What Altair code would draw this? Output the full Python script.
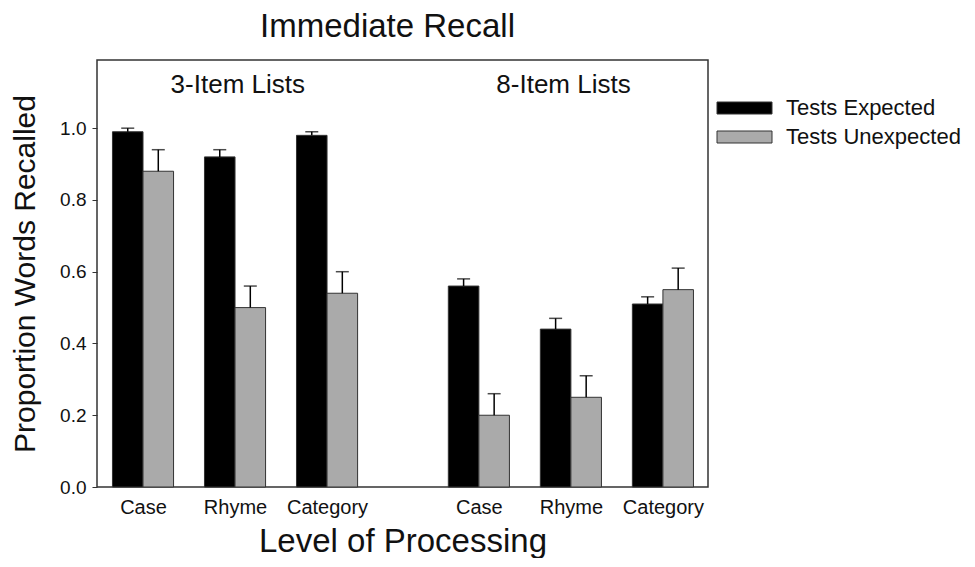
import altair as alt
import pandas as pd

# ---- data ----
levels = ["Case", "Rhyme", "Category", "Case", "Rhyme", "Category"]
slots = [1, 2, 3, 4.65, 5.65, 6.65]
expected = [0.99, 0.92, 0.98, 0.56, 0.44, 0.51]
expected_err = [0.01, 0.02, 0.01, 0.02, 0.03, 0.02]
unexpected = [0.88, 0.50, 0.54, 0.20, 0.25, 0.55]
unexpected_err = [0.06, 0.06, 0.06, 0.06, 0.06, 0.06]
conditions = ["Tests Expected", "Tests Unexpected"]
colors = ["#000000", "#aaaaaa"]
group_labels = ["3-Item Lists", "8-Item Lists"]
group_pos = [2.03, 5.57]
group_y = [1.12, 1.12]
y_ticks = [0.0, 0.2, 0.4, 0.6, 0.8, 1.0]

BW = 0.332  # bar width in slot units

rows = []
for i in range(len(levels)):
    rows.append(dict(level=levels[i], slot=slots[i], cond=conditions[0],
                     value=expected[i], err=expected_err[i],
                     x0=slots[i] - BW, x1=slots[i]))
    rows.append(dict(level=levels[i], slot=slots[i], cond=conditions[1],
                     value=unexpected[i], err=unexpected_err[i],
                     x0=slots[i], x1=slots[i] + BW))
df = pd.DataFrame(rows)
df["center"] = (df["x0"] + df["x1"]) / 2
df["top"] = df["value"] + df["err"]

FONT = "Liberation Sans"
TXT = "#111111"

xscale = alt.Scale(domain=[0.5, 7.14], nice=False, zero=False)
yscale = alt.Scale(domain=[0, 1.19], nice=False)

label_expr = ("[" + ",".join("'%s'" % l for l in levels) + "][indexof(["
              + ",".join(str(s) for s in slots) + "], datum.value)]")

xaxis = alt.Axis(values=slots, labelExpr=label_expr, ticks=False, grid=False,
                 title="Level of Processing", labelFontSize=20, labelPadding=10,
                 titleFontSize=33, titleFontWeight="normal", titlePadding=8,
                 labelColor=TXT, titleColor=TXT, domain=False)
yaxis = alt.Axis(values=y_ticks, format=".1f", grid=False, tickSize=5,
                 tickColor="#333", labelFontSize=19, labelPadding=6,
                 title="Proportion Words Recalled", titleFontSize=30,
                 titleFontWeight="normal", titlePadding=19,
                 labelColor=TXT, titleColor=TXT, domain=False)

base = alt.Chart(df)

bars = base.mark_bar(stroke="#333333", strokeWidth=1).encode(
    x=alt.X("x0:Q", scale=xscale, axis=xaxis),
    x2="x1:Q",
    y=alt.Y("value:Q", scale=yscale, axis=yaxis),
    y2=alt.datum(0),
    color=alt.Color("cond:N", scale=alt.Scale(domain=conditions, range=colors),
                    legend=None),
)

err_lines = base.mark_rule(color="#000000", strokeWidth=1.5).encode(
    x="center:Q", y="value:Q", y2="top:Q"
)
caps = base.mark_tick(color="#000000", orient="horizontal", size=13,
                      thickness=1.5).encode(x="center:Q", y="top:Q")

gdf = pd.DataFrame({"label": group_labels, "pos": group_pos, "yy": group_y})
group_text = alt.Chart(gdf).mark_text(fontSize=26, baseline="middle",
                                      font=FONT, color=TXT).encode(
    x="pos:Q", y="yy:Q", text="label:N"
)

# manual legend
leg1 = alt.Chart(pd.DataFrame({"label": [conditions[0]]}))
leg2 = alt.Chart(pd.DataFrame({"label": [conditions[1]]}))
sw1 = leg1.mark_rect(fill=colors[0], stroke="#333", strokeWidth=1).encode(
    x=alt.value(620), x2=alt.value(675), y=alt.value(42), y2=alt.value(54))
sw2 = leg2.mark_rect(fill=colors[1], stroke="#333", strokeWidth=1).encode(
    x=alt.value(620), x2=alt.value(675), y=alt.value(71), y2=alt.value(83))
tx1 = leg1.mark_text(fontSize=22, align="left", baseline="middle",
                     font=FONT, color=TXT).encode(
    x=alt.value(689), y=alt.value(48), text="label:N")
tx2 = leg2.mark_text(fontSize=22, align="left", baseline="middle",
                     font=FONT, color=TXT).encode(
    x=alt.value(689), y=alt.value(77), text="label:N")

chart = alt.layer(bars, err_lines, caps, group_text, sw1, sw2, tx1, tx2).properties(
    width=611, height=427,
    title=alt.TitleParams("Immediate Recall", fontSize=33, fontWeight="normal",
                          font=FONT, color=TXT, offset=16, dx=-15),
    autosize=alt.AutoSizeParams(type="none"),
    padding={"left": 89, "top": 52, "right": 258, "bottom": 71},
).configure(
    font=FONT
).configure_view(
    stroke="#333333", strokeWidth=1.5
).configure_axis(
    labelFont=FONT, titleFont=FONT
)

chart.save("out.html", embed_options={"renderer": "svg", "actions": False})
